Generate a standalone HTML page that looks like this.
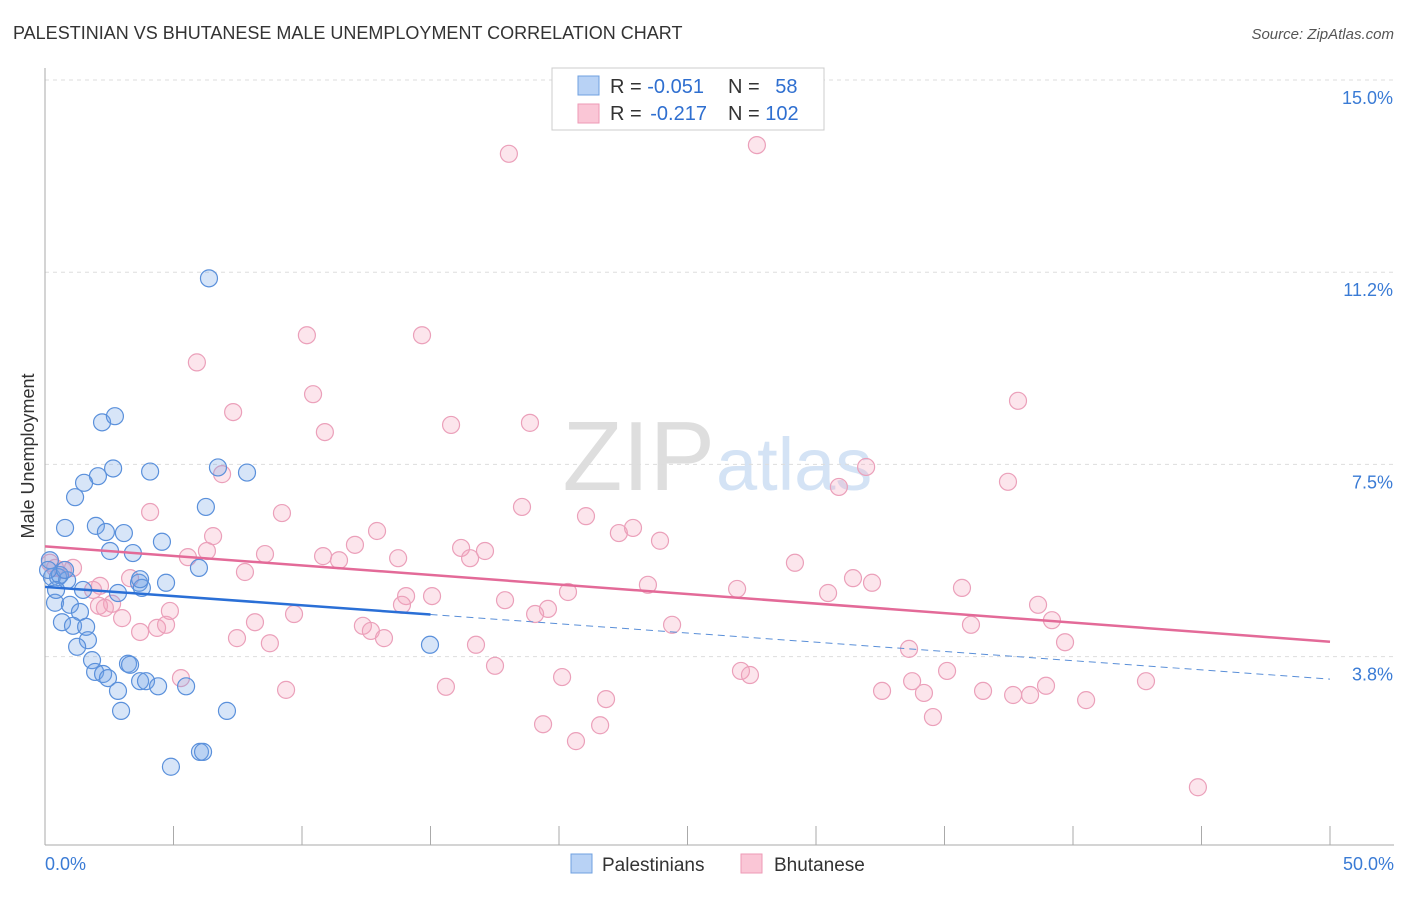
<!DOCTYPE html>
<html><head><meta charset="utf-8">
<style>
body{margin:0;background:#fff;font-family:"Liberation Sans",sans-serif;}
svg text{font-family:"Liberation Sans",sans-serif;}
</style></head>
<body>
<svg id="chart" width="1406" height="892" xmlns="http://www.w3.org/2000/svg">
<text x="13" y="39" font-size="18" fill="#333">PALESTINIAN VS BHUTANESE MALE UNEMPLOYMENT CORRELATION CHART</text>
<text x="1394" y="39" font-size="15" fill="#555" text-anchor="end" font-style="italic">Source: ZipAtlas.com</text>
<text x="715" y="490" font-size="98" fill="#dedede" text-anchor="end" font-family="Liberation Serif">ZIP</text>
<text x="716" y="490" font-size="74" fill="#d4e3f5">atlas</text>
<g id="grid"></g>
<g id="axes"></g>
<g id="pink"></g>
<g id="blue"></g>
<g id="trends"></g>
<text transform="translate(34,456) rotate(-90)" font-size="18" fill="#333" text-anchor="middle">Male Unemployment</text>
<g>
<rect x="552" y="68" width="272" height="62" fill="#fff" stroke="#ccc"/>
<rect x="578" y="76" width="21" height="19" fill="#b8d2f5" stroke="#6fa0e0"/>
<rect x="578" y="104" width="21" height="19" fill="#fac6d6" stroke="#ee9ab6"/>
<text x="610" y="93" font-size="20" fill="#333">R = <tspan fill="#2f6fd0">-0.051</tspan></text>
<text x="728" y="93" font-size="20" fill="#333">N = <tspan fill="#2f6fd0" dx="10">58</tspan></text>
<text x="610" y="120" font-size="20" fill="#333">R = <tspan fill="#2f6fd0" dx="3">-0.217</tspan></text>
<text x="728" y="120" font-size="20" fill="#333">N = <tspan fill="#2f6fd0">102</tspan></text>
</g>
<g>
<rect x="571" y="854" width="21" height="19" fill="#b8d2f5" stroke="#6fa0e0"/>
<text x="602" y="871" font-size="19" fill="#333">Palestinians</text>
<rect x="741" y="854" width="21" height="19" fill="#fac6d6" stroke="#ee9ab6"/>
<text x="774" y="871" font-size="19" fill="#333">Bhutanese</text>
</g>
</svg>
<script>
const yTicks=[3.75,7.5,11.25,15.0];
const yTickLabels=["3.8%","7.5%","11.2%","15.0%"];
const xLabels=["0.0%","50.0%"];
const blueX=[6.38,2.22,2.72,2.65,2.06,4.09,6.73,7.86,1.52,1.17,6.26,0.78,1.98,2.37,3.07,4.55,2.53,3.42,5.99,0.19,0.27,0.51,0.86,3.66,4.71,3.77,2.84,1.48,0.39,0.97,1.36,0.66,1.09,1.60,1.67,1.25,1.83,1.95,2.26,2.45,3.23,3.31,3.70,3.93,4.40,5.49,2.84,2.96,7.08,14.98,6.03,6.15,4.90,0.58,0.43,0.12,3.70,0.78];
const blueY=[11.13,8.32,8.44,7.42,7.27,7.36,7.44,7.34,7.14,6.86,6.67,6.26,6.30,6.18,6.16,5.99,5.81,5.77,5.48,5.63,5.30,5.30,5.24,5.19,5.19,5.09,4.99,5.05,4.80,4.76,4.62,4.42,4.35,4.33,4.07,3.94,3.68,3.45,3.41,3.33,3.61,3.59,3.27,3.27,3.17,3.17,3.08,2.69,2.69,3.98,1.89,1.89,1.60,5.34,5.05,5.44,5.26,5.44];
const pinkX=[18.05,27.70,10.19,14.67,5.91,10.43,7.32,10.89,15.80,18.87,37.86,6.89,31.95,30.89,37.47,4.09,9.22,18.56,21.05,6.54,12.92,22.33,22.88,23.93,6.30,8.56,10.82,12.06,11.44,13.74,16.19,17.12,16.54,5.56,29.18,7.78,0.70,1.09,3.31,2.14,1.87,2.61,2.10,2.33,4.86,3.00,3.70,4.36,4.71,7.47,8.17,8.75,9.69,12.37,12.68,13.19,14.05,15.06,13.89,17.90,19.57,20.35,19.07,23.46,26.93,31.44,32.18,30.47,35.68,38.64,39.18,36.03,24.40,16.77,39.69,33.62,27.08,27.43,35.10,33.74,32.57,34.20,36.50,37.67,38.33,38.95,42.84,40.51,34.55,9.38,5.29,15.60,17.51,20.12,21.83,19.38,20.66,21.60,44.86,0.19,0.39];
const pinkY=[13.56,13.73,10.02,10.02,9.49,8.87,8.52,8.13,8.27,8.31,8.74,7.31,7.45,7.06,7.16,6.57,6.55,6.67,6.49,6.10,6.20,6.16,6.26,6.01,5.81,5.75,5.71,5.93,5.63,5.67,5.87,5.81,5.67,5.69,5.58,5.40,5.44,5.48,5.28,5.13,5.05,4.78,4.74,4.70,4.64,4.50,4.23,4.31,4.37,4.11,4.42,4.01,4.58,4.35,4.25,4.11,4.93,4.93,4.76,4.85,4.68,5.01,4.58,5.15,5.07,5.28,5.19,4.99,5.09,4.76,4.46,4.37,4.37,3.98,4.03,3.90,3.47,3.39,3.47,3.27,3.08,3.04,3.08,3.00,3.00,3.18,3.27,2.90,2.57,3.10,3.33,3.16,3.57,3.35,2.92,2.43,2.10,2.41,1.20,5.58,5.48];
const blueTrend=[5.11,3.31];
const pinkTrend=[5.90,4.04];
const blueSolidEnd=15;

const NS="http://www.w3.org/2000/svg";
const X0=45,X1=1330,Y0=848.75,PY=51.25;
const sx=v=>X0+(v/50)*(X1-X0);
const sy=v=>Y0-v*PY;
function mk(tag,attrs,parent){const e=document.createElementNS(NS,tag);for(const k in attrs)e.setAttribute(k,attrs[k]);parent.appendChild(e);return e;}
const grid=document.getElementById('grid'),axes=document.getElementById('axes');
yTicks.forEach((t,i)=>{
  const l=mk('line',{x1:45,x2:1394,y1:sy(t),y2:sy(t),stroke:'#ddd','stroke-dasharray':'4,4'},grid);
  
  
  const tx=mk('text',{x:1393,y:sy(t)+24,'font-size':18,fill:'#3a7bd5','text-anchor':'end'},axes);
  tx.textContent=yTickLabels[i];
  
  
});
const ax=mk('line',{x1:45,x2:45,y1:68,y2:845,stroke:'#aaa'},axes);


const bx=mk('line',{x1:45,x2:1394,y1:845,y2:845,stroke:'#aaa'},axes);


for(let i=0;i<=10;i++){
  const t=mk('line',{x1:sx(i*5),x2:sx(i*5),y1:826,y2:845,stroke:'#aaa'},axes);
  
  
}
[[0,'start',45],[50,'end',1394]].forEach((d,i)=>{
  const tx=mk('text',{x:d[2],y:870,'font-size':18,fill:'#3a7bd5','text-anchor':d[1]},axes);
  tx.textContent=xLabels[i];
  
  
});
function dots(xs,ys,g,fill,stroke,name){
  xs.forEach((x,i)=>{
    const c=mk('circle',{cx:sx(x),cy:sy(ys[i]),r:8.5,fill:fill,stroke:stroke,'stroke-width':1.2},g);
    
    
  });
}
dots(pinkX,pinkY,document.getElementById('pink'),'rgba(244,160,188,0.28)','#eba0ba','bhutanese-point');
dots(blueX,blueY,document.getElementById('blue'),'rgba(110,160,230,0.28)','#5a90db','palestinians-point');
const tr=document.getElementById('trends');
const by=x=>blueTrend[0]+(blueTrend[1]-blueTrend[0])*x/50;
let l1=mk('line',{x1:sx(0),y1:sy(by(0)),x2:sx(blueSolidEnd),y2:sy(by(blueSolidEnd)),stroke:'#2a6fd6','stroke-width':2.5},tr);


let l2=mk('line',{x1:sx(blueSolidEnd),y1:sy(by(blueSolidEnd)),x2:sx(50),y2:sy(by(50)),stroke:'#5a8fd8','stroke-width':1,'stroke-dasharray':'7,5'},tr);


let l3=mk('line',{x1:sx(0),y1:sy(pinkTrend[0]),x2:sx(50),y2:sy(pinkTrend[1]),stroke:'#e36a98','stroke-width':2.5},tr);


</script>
</body></html>
